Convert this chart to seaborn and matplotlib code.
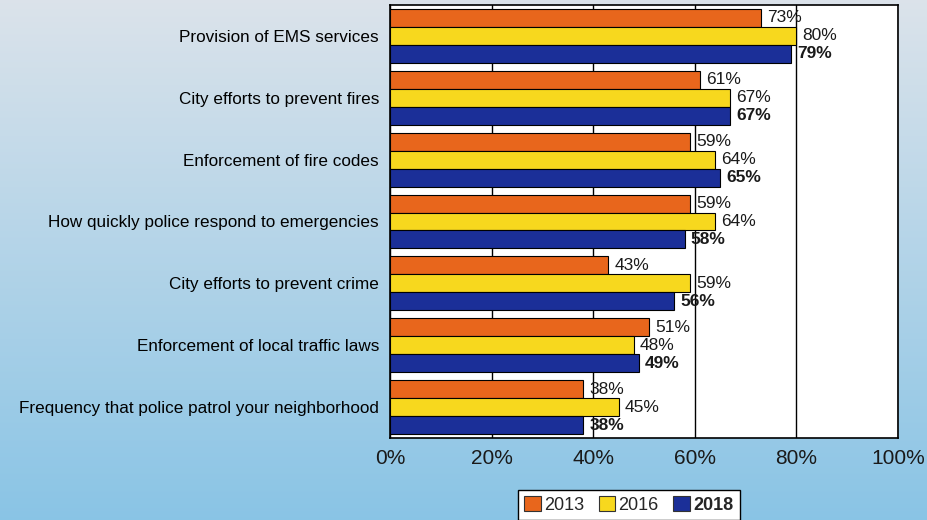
import numpy as np
import pandas as pd
import matplotlib
matplotlib.use("Agg")
import matplotlib.pyplot as plt
from matplotlib.patches import Patch
import seaborn as sns

categories = [
    "Provision of EMS services",
    "City efforts to prevent fires",
    "Enforcement of fire codes",
    "How quickly police respond to emergencies",
    "City efforts to prevent crime",
    "Enforcement of local traffic laws",
    "Frequency that police patrol your neighborhood",
]
years = ["2013", "2016", "2018"]
values_2013 = [73, 61, 59, 59, 43, 51, 38]
values_2016 = [80, 67, 64, 64, 59, 48, 45]
values_2018 = [79, 67, 65, 58, 56, 49, 38]
x_ticks = [0, 20, 40, 60, 80, 100]
x_tick_labels = ["0%", "20%", "40%", "60%", "80%", "100%"]

colors = {"2013": "#e8661c", "2016": "#f7d81e", "2018": "#1b2f98"}

df = pd.DataFrame({
    "category": categories * 3,
    "year": [y for y in years for _ in categories],
    "value": values_2013 + values_2016 + values_2018,
})

sns.set_theme(style="white")
plt.rcParams["font.family"] = ["Liberation Sans", "DejaVu Sans"]

fig = plt.figure(figsize=(9.27, 5.20), dpi=100)

# soft sky-blue backdrop behind everything
bg = fig.add_axes([0, 0, 1, 1], zorder=-10)
top = np.array([0.86, 0.89, 0.92])
bottom = np.array([0.54, 0.77, 0.90])
t = np.linspace(0, 1, 256)[:, None]
grad = top * (1 - t) + bottom * t
bg.imshow(grad[:, None, :].repeat(2, axis=1), aspect="auto", extent=[0, 1, 0, 1])
bg.set_axis_off()

ax = fig.add_axes([390 / 927, 1 - 438 / 520, (898 - 390) / 927, (438 - 5) / 520])
ax.set_facecolor("white")

sns.barplot(
    data=df, y="category", x="value", hue="year", orient="h",
    palette=colors, edgecolor="black", linewidth=0.8, width=0.87,
    saturation=1, ax=ax, legend=False,
)

for i, cont in enumerate(ax.containers):
    weight = "bold" if years[i] == "2018" else "normal"
    ax.bar_label(
        cont, labels=[f"{v:.0f}%" for v in cont.datavalues],
        padding=4.5, fontsize=12.5, fontweight=weight, color="#1a1a1a",
    )

ax.set_xlim(0, 100)
ax.set_ylim(6.5, -0.5)
ax.set_xticks(x_ticks)
ax.set_xticklabels(x_tick_labels, fontsize=15, color="#1a1a1a")
ax.tick_params(axis="x", length=0, pad=8)
ax.tick_params(axis="y", length=0, pad=8, labelsize=12.3, labelcolor="black")
ax.set_xlabel("")
ax.set_ylabel("")
ax.xaxis.grid(True, color="black", linewidth=1)
ax.set_axisbelow(True)
for s in ax.spines.values():
    s.set_visible(True)
    s.set_color("black")
    s.set_linewidth(1.2)

handles = [Patch(facecolor=colors[y], edgecolor="#333333", linewidth=0.8) for y in years]
leg = fig.legend(
    handles, years, loc="upper left", bbox_to_anchor=(518 / 927, 1 - 490 / 520),
    ncol=3, frameon=True, fancybox=False, edgecolor="black", framealpha=1,
    fontsize=13, handlelength=0.9, handleheight=0.9, handletextpad=0.2,
    columnspacing=0.8, borderpad=0.35, borderaxespad=0,
)
leg.get_frame().set_linewidth(1)
leg.get_texts()[2].set_fontweight("bold")

fig.savefig("out.png", dpi=100)
